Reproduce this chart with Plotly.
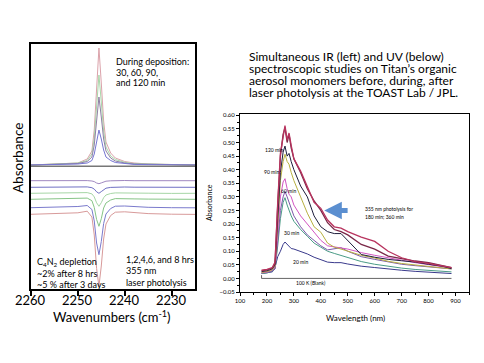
import plotly.graph_objects as go

# ---------------- Left panel (IR) data ----------------
wavenumber = [2260, 2255, 2250, 2248, 2247, 2246.5, 2246, 2245.5, 2245, 2244.5,
              2244, 2243, 2242, 2240, 2238, 2235, 2230, 2225]

dep_120 = [0.00, 0.01, 0.02, 0.06, 0.14, 0.35, 0.82, 1.17, 0.82, 0.44, 0.23, 0.12, 0.07, 0.035, 0.02, 0.01, 0.005, 0.0]
dep_90 = [0.00, 0.01, 0.02, 0.045, 0.11, 0.27, 0.63, 0.90, 0.63, 0.34, 0.18, 0.09, 0.055, 0.027, 0.014, 0.009, 0.005, 0.0]
dep_60 = [0.00, 0.01, 0.015, 0.035, 0.08, 0.20, 0.48, 0.68, 0.48, 0.26, 0.14, 0.07, 0.04, 0.02, 0.01, 0.007, 0.004, 0.0]
dep_30 = [0.0, 0.005, 0.01, 0.02, 0.045, 0.11, 0.25, 0.35, 0.26, 0.15, 0.08, 0.045, 0.025, 0.012, 0.006, 0.004, 0.002, 0.0]

phot_1h = [-0.157, -0.155, -0.157, -0.156, -0.160, -0.166, -0.180, -0.187, -0.179, -0.168, -0.162, -0.158, -0.156, -0.155, -0.157, -0.156, -0.158, -0.157]
phot_2h = [-0.223, -0.221, -0.220, -0.219, -0.227, -0.241, -0.268, -0.283, -0.266, -0.244, -0.232, -0.224, -0.221, -0.220, -0.222, -0.222, -0.224, -0.223]
phot_4h = [-0.283, -0.281, -0.279, -0.276, -0.289, -0.319, -0.378, -0.413, -0.377, -0.327, -0.300, -0.285, -0.279, -0.278, -0.281, -0.282, -0.284, -0.283]
phot_6h = [-0.343, -0.340, -0.336, -0.331, -0.357, -0.424, -0.545, -0.613, -0.537, -0.430, -0.380, -0.350, -0.336, -0.335, -0.339, -0.341, -0.344, -0.343]
phot_8h = [-0.427, -0.423, -0.415, -0.405, -0.445, -0.560, -0.780, -0.897, -0.765, -0.585, -0.490, -0.435, -0.412, -0.410, -0.418, -0.423, -0.427, -0.428]
phot_3d = [-0.493, -0.489, -0.478, -0.462, -0.520, -0.700, -1.035, -1.213, -1.010, -0.740, -0.590, -0.505, -0.472, -0.468, -0.478, -0.486, -0.492, -0.494]

divider_level = -0.012
ir_ticks = [2260, 2250, 2240, 2230]

# ---------------- Right panel (UV) data ----------------
wavelength = [180, 200, 220, 230, 240, 250, 260, 267, 275, 282, 290, 300, 325, 350, 375,
              400, 425, 450, 475, 500, 550, 600, 650, 700, 750, 800, 850, 885]

uv_180min = [0.030, 0.033, 0.040, 0.060, 0.28, 0.46, 0.52, 0.562, 0.51, 0.535, 0.49, 0.44, 0.395, 0.334, 0.28,
             0.258, 0.215, 0.19, 0.185, 0.172, 0.152, 0.136, 0.10, 0.076, 0.062, 0.055, 0.047, 0.040]
uv_360min = [0.028, 0.031, 0.038, 0.055, 0.27, 0.45, 0.53, 0.555, 0.50, 0.53, 0.48, 0.44, 0.39, 0.33, 0.285,
             0.25, 0.205, 0.18, 0.172, 0.16, 0.125, 0.108, 0.082, 0.072, 0.064, 0.058, 0.048, 0.040]
uv_120min = [0.025, 0.028, 0.035, 0.050, 0.22, 0.39, 0.465, 0.487, 0.45, 0.46, 0.43, 0.40, 0.34, 0.30, 0.23,
             0.19, 0.172, 0.165, 0.165, 0.14, 0.088, 0.078, 0.07, 0.065, 0.06, 0.052, 0.045, 0.036]
uv_90min = [0.022, 0.025, 0.032, 0.045, 0.20, 0.36, 0.43, 0.457, 0.43, 0.42, 0.39, 0.36, 0.30, 0.24, 0.19,
            0.17, 0.13, 0.115, 0.108, 0.10, 0.085, 0.075, 0.063, 0.055, 0.05, 0.045, 0.04, 0.035]
uv_60min = [0.020, 0.023, 0.030, 0.040, 0.17, 0.30, 0.355, 0.367, 0.33, 0.31, 0.30, 0.27, 0.23, 0.20, 0.17,
            0.14, 0.12, 0.115, 0.112, 0.108, 0.095, 0.085, 0.075, 0.067, 0.058, 0.05, 0.044, 0.038]
uv_purple = [0.020, 0.022, 0.028, 0.035, 0.14, 0.25, 0.30, 0.32, 0.30, 0.28, 0.26, 0.23, 0.19, 0.16, 0.14,
             0.12, 0.105, 0.108, 0.113, 0.10, 0.08, 0.07, 0.06, 0.052, 0.047, 0.043, 0.04, 0.035]
uv_30min = [0.018, 0.020, 0.027, 0.035, 0.12, 0.22, 0.28, 0.297, 0.27, 0.25, 0.23, 0.21, 0.18, 0.155, 0.13,
            0.115, 0.10, 0.092, 0.085, 0.078, 0.062, 0.052, 0.044, 0.038, 0.033, 0.029, 0.026, 0.024]
uv_20min = [0.018, 0.020, 0.024, 0.040, 0.08, 0.10, 0.125, 0.134, 0.125, 0.115, 0.11, 0.108, 0.10, 0.09, 0.078,
            0.07, 0.06, 0.058, 0.058, 0.053, 0.045, 0.04, 0.034, 0.03, 0.026, 0.023, 0.02, 0.018]
blank_x = [180, 180, 885]
blank_y = [0.012, 0.0, 0.0]

uv_xticks = [100, 200, 300, 400, 500, 600, 700, 800, 900]

FONT = "Lato"

fig = go.Figure()

left_top = [(dep_120, "#dba2aa"), (dep_90, "#a9d6a9"), (dep_60, "#8f80a4"), (dep_30, "#7676d2")]
for ys, col in left_top:
    fig.add_trace(go.Scatter(x=wavenumber, y=ys, mode="lines", line=dict(color=col, width=1),
                             xaxis="x", yaxis="y", showlegend=False))
fig.add_trace(go.Scatter(x=[wavenumber[0], wavenumber[-1]], y=[divider_level, divider_level], mode="lines",
                         line=dict(color="#777777", width=1.5), xaxis="x", yaxis="y", showlegend=False))
left_bot = [(phot_1h, "#a088c0"), (phot_2h, "#7070c4"), (phot_4h, "#a6d6a6"), (phot_6h, "#86c486"),
            (phot_8h, "#7a7acc"), (phot_3d, "#d89a9a")]
for ys, col in left_bot:
    fig.add_trace(go.Scatter(x=wavenumber, y=ys, mode="lines", line=dict(color=col, width=1),
                             xaxis="x", yaxis="y", showlegend=False))

right = [(uv_20min, "#3a3a8c", 1), (uv_30min, "#4a9c86", 1), (uv_purple, "#7a58a8", 1),
         (uv_60min, "#d255c2", 1), (uv_90min, "#b8b040", 1), (uv_120min, "#1e1e3c", 1),
         (uv_360min, "#7a2848", 1.3), (uv_180min, "#b8335e", 1.3)]
for ys, col, w in right:
    fig.add_trace(go.Scatter(x=wavelength, y=ys, mode="lines", line=dict(color=col, width=w),
                             xaxis="x2", yaxis="y2", showlegend=False))
fig.add_trace(go.Scatter(x=blank_x, y=blank_y, mode="lines", line=dict(color="#666666", width=1),
                         xaxis="x2", yaxis="y2", showlegend=False))

W, H = 484, 363
def px(x): return x / W
def py(y): return 1 - y / H

ann = []
def txt(x, y, s, size, xanchor="left", ref="paper", color="black", **kw):
    d = dict(x=x, y=y, text=s, showarrow=False, xanchor=xanchor, yanchor="middle",
             font=dict(family=FONT, size=size, color=color))
    if ref == "paper":
        d.update(xref="paper", yref="paper", x=px(x), y=py(y))
    else:
        d.update(xref="x2", yref="y2")
    d.update(kw)
    ann.append(d)

# title block
txt(247, 56, "Simultaneous IR (left) and UV (below)", 12)
txt(247, 68, "spectroscopic studies on Titan\u2019s organic", 12)
txt(247, 80, "aerosol monomers before, during, after", 12)
txt(247, 92, "laser photolysis at the TOAST Lab / JPL.", 12)

# left panel text
txt(114, 61, "During deposition:", 9)
txt(114, 72, "30, 60, 90,", 9)
txt(114, 83, "and 120 min", 9)
txt(35, 262, "C<sub>4</sub>N<sub>2</sub> depletion", 9)
txt(35, 273, "~2% after 8 hrs", 9)
txt(35, 284, "~5 % after 3 days", 9)
txt(124, 259, "1,2,4,6, and 8 hrs", 9)
txt(124, 270, "355 nm", 9)
txt(124, 282, "laser photolysis", 9)
txt(18, 158, "Absorbance", 13.5, xanchor="center", textangle=-90)
txt(112, 316, "Wavenumbers (cm<sup>-1</sup>)", 13, xanchor="center")
for t in ir_ticks:
    ann.append(dict(x=t, y=py(300), xref="x", yref="paper", text=str(t), showarrow=False,
                    xanchor="center", yanchor="middle", font=dict(family=FONT, size=13, color="black")))

# right panel text
txt(355, 318, "Wavelength (nm)", 8, xanchor="center")
txt(209, 203, "Absorbance", 7, xanchor="center", textangle=-90)
txt(225, 0.472, "120 min", 5, xanchor="center", ref="data")
txt(217, 0.393, "90 min", 5, xanchor="center", ref="data")
txt(280, 0.32, "60 min", 5, xanchor="center", ref="data")
txt(290, 0.166, "30 min", 5, xanchor="center", ref="data")
txt(325, 0.06, "20 min", 5, xanchor="center", ref="data")
txt(365, -0.016, "100 K (Blank)", 5, xanchor="center", ref="data")
txt(556, 0.255, "355 nm photolysis for", 5, ref="data")
txt(556, 0.226, "180 min; 360 min", 5, ref="data")
ann.append(dict(x=413, y=0.25, ax=505, ay=0.25, xref="x2", yref="y2", axref="x2", ayref="y2",
                showarrow=True, arrowhead=2, arrowsize=0.7, arrowwidth=5, arrowcolor="#5b8fd0", text=""))

fig.update_layout(
    width=W, height=H, margin=dict(l=0, r=0, t=0, b=0, autoexpand=False),
    paper_bgcolor="white", plot_bgcolor="white",
    font=dict(family=FONT, color="black"),
    xaxis=dict(domain=[px(31), px(195)], range=[2260, 2225], tickvals=ir_ticks, showticklabels=False,
               ticks="outside", ticklen=5, tickwidth=2, tickcolor="black", automargin=False,
               showline=True, linewidth=2, linecolor="black", mirror=True,
               showgrid=False, zeroline=False),
    yaxis=dict(domain=[py(289), py(44)], range=[-1.24, 1.21], showticklabels=False, ticks="",
               showline=True, linewidth=2, linecolor="black", mirror=True, automargin=False,
               showgrid=False, zeroline=False),
    xaxis2=dict(domain=[px(240), px(469)], range=[100, 950], tickvals=uv_xticks,
                ticks="outside", ticklen=3, tickwidth=1, tickcolor="black", automargin=False,
                minor=dict(ticks="outside", ticklen=2, dtick=50, tickcolor="black"),
                showline=True, linewidth=1, linecolor="black", mirror=True,
                showgrid=False, zeroline=False, tickfont=dict(size=6, family=FONT), anchor="y2"),
    yaxis2=dict(domain=[py(292), py(114)], range=[-0.05, 0.605], dtick=0.05, tick0=0, tickformat=".2f",
                ticks="outside", ticklen=3, tickwidth=1, tickcolor="black", automargin=False,
                minor=dict(ticks="outside", ticklen=2, dtick=0.025, tickcolor="black"),
                showline=True, linewidth=1, linecolor="black", mirror=True,
                showgrid=False, zeroline=False, tickfont=dict(size=6, family=FONT), anchor="x2"),
    annotations=ann,
)

fig.write_html("out.html", config={"displayModeBar": False},
               post_script="document.body.style.margin='0';document.body.style.padding='0';")
